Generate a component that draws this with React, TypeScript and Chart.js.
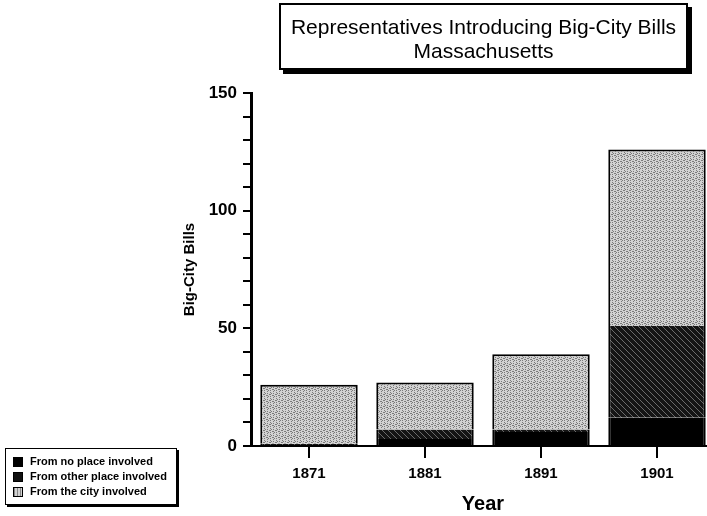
import React, { useEffect, useRef } from 'react';
import { Chart, registerables } from 'chart.js';

Chart.register(...registerables);

const years = ['1871', '1881', '1891', '1901'];
const fromNoPlace = [0, 3, 6, 12];
const fromOtherPlace = [1, 4, 1, 39];
const fromCity = [25, 20, 32, 75];
const yLabelValues = [0, 50, 100, 150];
const titleLines = ['Representatives Introducing Big-City Bills', 'Massachusetts'];
const legendLabels = ['From no place involved', 'From other place involved', 'From the city involved'];
const yTitle = 'Big-City Bills';
const xTitle = 'Year';

const FONT = '"Liberation Sans", Arial, Helvetica, sans-serif';

function makeCityPattern(ctx: CanvasRenderingContext2D) {
  const c = document.createElement('canvas');
  c.width = 6;
  c.height = 6;
  const g = c.getContext('2d')!;
  g.fillStyle = '#d2d2d2';
  g.fillRect(0, 0, 6, 6);
  g.fillStyle = '#7a7a7a';
  const dots = [[0, 0], [0, 2], [0, 4], [3, 1], [3, 3], [3, 5], [1, 3], [4, 0], [5, 4], [2, 5]];
  dots.forEach(([x, y]) => g.fillRect(x, y, 1, 1));
  return ctx.createPattern(c, 'repeat')!;
}

function makeOtherPattern(ctx: CanvasRenderingContext2D) {
  const c = document.createElement('canvas');
  c.width = 6;
  c.height = 6;
  const g = c.getContext('2d')!;
  g.fillStyle = '#141414';
  g.fillRect(0, 0, 6, 6);
  g.fillStyle = '#6a6a6a';
  for (let i = 0; i < 6; i++) g.fillRect(i, i, 1, 1);
  return ctx.createPattern(c, 'repeat')!;
}

export default function App() {
  const ref = useRef<HTMLCanvasElement | null>(null);

  useEffect(() => {
    const canvas = ref.current!;
    const ctx = canvas.getContext('2d')!;
    const cityFill = makeCityPattern(ctx);
    const otherFill = makeOtherPattern(ctx);
    const chart = new Chart(canvas, {
      type: 'bar',
      data: {
        labels: years,
        datasets: [
          {
            label: legendLabels[0],
            data: fromNoPlace,
            backgroundColor: '#000',
            borderColor: '#000',
            borderWidth: { left: 2, right: 2, top: 0, bottom: 0 },
            borderSkipped: false,
            barPercentage: 0.84,
            categoryPercentage: 1,
          },
          {
            label: legendLabels[1],
            data: fromOtherPlace,
            backgroundColor: otherFill,
            borderColor: '#000',
            borderWidth: { left: 2, right: 2, top: 0, bottom: 0 },
            borderSkipped: false,
            barPercentage: 0.84,
            categoryPercentage: 1,
          },
          {
            label: legendLabels[2],
            data: fromCity,
            backgroundColor: cityFill,
            borderColor: '#000',
            borderWidth: { left: 2, right: 2, top: 2, bottom: 0 },
            borderSkipped: false,
            barPercentage: 0.84,
            categoryPercentage: 1,
          },
        ],
      },
      options: {
        animation: false,
        responsive: false,
        maintainAspectRatio: false,
        layout: { padding: { left: 170, top: 93, right: 5, bottom: 0 } },
        plugins: {
          legend: { display: false },
          tooltip: { enabled: false },
          title: { display: false },
        },
        scales: {
          x: {
            stacked: true,
            offset: true,
            grid: {
              drawOnChartArea: false,
              offset: false,
              tickLength: 12,
              color: '#000',
              lineWidth: 2,
            },
            border: { color: '#000', width: 2 },
            ticks: {
              color: '#000',
              font: { family: FONT, size: 15, weight: 'bold' },
              padding: 7,
            },
            title: {
              display: true,
              text: xTitle,
              color: '#000',
              font: { family: FONT, size: 20, weight: 'bold' },
              padding: { top: 0, bottom: 0 },
            },
            afterFit: (s: any) => {
              s.height = 70;
            },
          },
          y: {
            stacked: true,
            min: 0,
            max: 150,
            grid: {
              drawOnChartArea: false,
              tickLength: 8,
              color: '#000',
              lineWidth: 2,
            },
            border: { color: '#000', width: 3 },
            ticks: {
              stepSize: 10,
              autoSkip: false,
              color: '#000',
              font: { family: FONT, size: 17, weight: 'bold' },
              padding: 6,
              callback: (v: any) => (yLabelValues.includes(Number(v)) ? String(v) : ''),
            },
            title: {
              display: true,
              text: yTitle,
              color: '#000',
              font: { family: FONT, size: 15, weight: 'bold' },
              padding: { top: 11, bottom: 0 },
            },
            afterFit: (s: any) => {
              s.width = 81;
            },
          },
        },
      },
    });
    return () => chart.destroy();
  }, []);

  const swatch = (bg: string): React.CSSProperties => ({
    display: 'inline-block',
    width: 10,
    height: 10,
    background: bg,
    border: '1px solid #000',
    boxSizing: 'border-box',
    marginRight: 7,
    verticalAlign: 'middle',
  });

  return (
    <div
      style={{
        position: 'fixed',
        left: 0,
        top: 0,
        width: 707,
        height: 516,
        overflow: 'hidden',
        background: '#fff',
        fontFamily: FONT,
      }}
    >
      <canvas ref={ref} width={720} height={516} style={{ position: 'absolute', left: 0, top: 0, width: 720, height: 516 }} />
      <div
        style={{
          position: 'absolute',
          left: 279,
          top: 3,
          width: 409,
          height: 67,
          border: '2px solid #000',
          boxShadow: '4px 4px 0 #000',
          background: '#fff',
          textAlign: 'center',
          fontSize: 21,
          lineHeight: '24px',
          color: '#000',
          paddingTop: 10,
          boxSizing: 'border-box',
        }}
      >
        <div>{titleLines[0]}</div>
        <div>{titleLines[1]}</div>
      </div>
      <div
        style={{
          position: 'absolute',
          left: 5,
          top: 448,
          width: 172,
          height: 57,
          border: '1px solid #000',
          boxShadow: '2px 2px 0 #000',
          background: '#fff',
          boxSizing: 'border-box',
          paddingTop: 5,
          paddingLeft: 7,
          fontSize: 11,
          fontWeight: 'bold',
          lineHeight: '15px',
          color: '#000',
        }}
      >
        <div><span style={swatch('#000')} />{legendLabels[0]}</div>
        <div><span style={swatch('#111')} />{legendLabels[1]}</div>
        <div><span style={swatch('repeating-linear-gradient(90deg, #888 0 1px, #d2d2d2 1px 3px)')} />{legendLabels[2]}</div>
      </div>
    </div>
  );
}
